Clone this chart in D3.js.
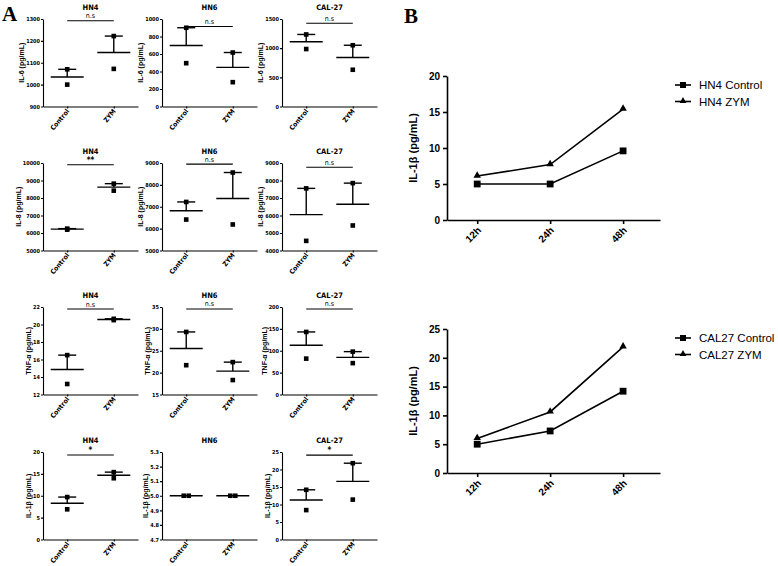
<!DOCTYPE html>
<html><head><meta charset="utf-8">
<script src="https://cdn.jsdelivr.net/npm/d3@7"></script>
<style>
body{margin:0;background:#fff}
svg{display:block}
</style>
</head><body>
<svg id="chart" width="778" height="566"></svg>
<script>
// ---------- Panel A data ----------
const groups = ["Control", "ZYM"];
const cellLines = ["HN4", "HN6", "CAL-27"];
const yLabels = ["IL-6 (pg/mL)", "IL-8 (pg/mL)", "TNF-α (pg/mL)", "IL-1β (pg/mL)"];

const il6Control = [[1000, 1070], [495, 900], [985, 1235]];
const il6ZYM     = [[1072, 1222], [278, 617], [630, 1050]];
const il6Ticks   = [[900, 1000, 1100, 1200, 1300], [0, 200, 400, 600, 800, 1000], [0, 500, 1000, 1500]];
const il6Sig     = ["n.s", "n.s", "n.s"];
const il6SigY    = [1292, 915, 1428];

const il8Control = [[6190, 6250], [6415, 7220], [4550, 7550]];
const il8ZYM     = [[8420, 8820], [6190, 8565], [5430, 7850]];
const il8Ticks   = [[5000, 6000, 7000, 8000, 9000, 10000], [5000, 6000, 7000, 8000, 9000], [4000, 5000, 6000, 7000, 8000, 9000]];
const il8Sig     = ["**", "n.s", "n.s"];
const il8SigY    = [9904, 8950, 8760];

const tnfControl = [[13.2, 16.5], [21.7, 29.3], [82, 143]];
const tnfZYM     = [[20.5, 20.65], [18.3, 22.4], [71.7, 98]];
const tnfTicks   = [[12, 14, 16, 18, 20, 22], [15, 20, 25, 30, 35], [0, 50, 100, 150, 200]];
const tnfSig     = ["n.s", "n.s", "n.s"];
const tnfSigY    = [21.77, 34.55, 195.5];

const il1bControl = [[6.9, 9.7], [5.0, 5.0], [8.4, 14.2]];
const il1bZYM     = [[14.0, 15.4], [5.0, 5.0], [11.4, 21.8]];
const il1bTicks   = [[0, 5, 10, 15, 20], [4.7, 4.8, 4.9, 5.0, 5.1, 5.2, 5.3], [0, 5, 10, 15, 20, 25]];
const il1bSig     = ["*", "", "*"];
const il1bSigY    = [19.3, null, 24.1];

// ---------- Panel B data ----------
const timePoints = ["12h", "24h", "48h"];
const hn4Control = [5.0, 5.0, 9.6];
const hn4ZYM     = [6.1, 7.7, 15.4];
const cal27Control = [5.0, 7.3, 14.2];
const cal27ZYM     = [6.0, 10.6, 21.9];
const bTicksTop    = [0, 5, 10, 15, 20];
const bTicksBottom = [0, 5, 10, 15, 20, 25];
const bLegendTop    = ["HN4 Control", "HN4 ZYM"];
const bLegendBottom = ["CAL27 Control", "CAL27 ZYM"];
const bYLabel = "IL-1β (pg/mL)";

// ---------- Build ----------
const rows = [
  {ctrl: il6Control, zym: il6ZYM, ticks: il6Ticks, sig: il6Sig, sigY: il6SigY, label: yLabels[0]},
  {ctrl: il8Control, zym: il8ZYM, ticks: il8Ticks, sig: il8Sig, sigY: il8SigY, label: yLabels[1]},
  {ctrl: tnfControl, zym: tnfZYM, ticks: tnfTicks, sig: tnfSig, sigY: tnfSigY, label: yLabels[2]},
  {ctrl: il1bControl, zym: il1bZYM, ticks: il1bTicks, sig: il1bSig, sigY: il1bSigY, label: yLabels[3]}
];

const svg = d3.select("#chart");
const narrow = "'Liberation Sans Narrow','Arial Narrow','DejaVu Sans Condensed',sans-serif";
const sans = "'Liberation Sans',Arial,Helvetica,sans-serif";
const serif = "'Liberation Serif','Times New Roman',serif";

svg.append("text").attr("x", 2).attr("y", 21).attr("font-family", serif)
  .attr("font-weight", "bold").attr("font-size", 21).text("A");
svg.append("text").attr("x", 404).attr("y", 23).attr("font-family", serif)
  .attr("font-weight", "bold").attr("font-size", 21).text("B");

const colX = [43, 162, 282];
const rowTop = [19, 163, 307, 452];
const plotW = 95, plotH = 87.5;

rows.forEach((row, r) => {
  cellLines.forEach((cell, c) => {
    const g = svg.append("g").attr("transform", `translate(${colX[c]},${rowTop[r]})`);
    const ticks = row.ticks[c];
    const y = d3.scaleLinear().domain([ticks[0], ticks[ticks.length - 1]]).range([plotH, 0]);
    const x = d3.scalePoint().domain(groups).range([0, plotW]).padding(0.52);
    const fmt = ticks.some(t => !Number.isInteger(t)) ? d3.format(".1f") : d3.format("d");

    const ya = g.append("g").call(d3.axisLeft(y).tickValues(ticks).tickFormat(fmt)
      .tickSize(2).tickSizeOuter(0).tickPadding(1));
    ya.selectAll("text").attr("font-family", narrow).attr("font-weight", "bold")
      .attr("font-size", 5.5).attr("fill", "#000");
    ya.selectAll("path,line").attr("stroke", "#000").attr("stroke-width", 1.1);

    const xa = g.append("g").attr("transform", `translate(0,${plotH})`)
      .call(d3.axisBottom(x).tickSize(2).tickSizeOuter(0));
    xa.selectAll("path,line").attr("stroke", "#000").attr("stroke-width", 1.1);
    xa.selectAll("text").attr("font-family", narrow).attr("font-weight", "bold")
      .attr("font-size", 6.8).attr("fill", "#000")
      .attr("text-anchor", "end").attr("dy", null).attr("y", null)
      .attr("transform", "translate(2,5) rotate(-50)");

    // y label
    let maxW = 0;
    ya.selectAll("text").each(function () { maxW = Math.max(maxW, this.getBBox().width); });
    g.append("text")
      .attr("transform", `translate(${-(2 + 1 + maxW + 1.5)},${plotH / 2}) rotate(-90)`)
      .attr("text-anchor", "middle").attr("font-family", sans).attr("font-weight", "bold")
      .attr("font-size", 7).text(row.label);

    // title
    g.append("text").attr("x", plotW / 2).attr("y", -9.5).attr("text-anchor", "middle")
      .attr("font-family", narrow).attr("font-weight", "bold").attr("font-size", 7.5).text(cell);

    // significance bracket
    if (row.sig[c]) {
      const sy = y(row.sigY[c]);
      g.append("line").attr("x1", x("Control")).attr("x2", x("ZYM"))
        .attr("y1", sy).attr("y2", sy).attr("stroke", "#000").attr("stroke-width", 1.1);
      const star = row.sig[c] !== "n.s";
      g.append("text").attr("x", (x("Control") + x("ZYM")) / 2).attr("y", sy - (star ? 2 : 2.5))
        .attr("text-anchor", "middle").attr("font-family", narrow)
        .attr("font-weight", star ? "bold" : "normal").attr("font-size", star ? 8 : 7).text(row.sig[c]);
    }

    // groups
    [row.ctrl[c], row.zym[c]].forEach((vals, gi) => {
      const cx = x(groups[gi]);
      const n = vals.length;
      const mean = d3.mean(vals);
      const sem = n > 1 ? d3.deviation(vals) / Math.sqrt(n) : 0;
      const allSame = d3.max(vals) === d3.min(vals);
      vals.forEach((v, i) => {
        const off = allSame ? (i - (n - 1) / 2) * 5 : 0;
        g.append("rect").attr("x", cx + off - 2.3).attr("y", y(v) - 2.3)
          .attr("width", 4.6).attr("height", 4.6).attr("fill", "#000");
      });
      g.append("line").attr("x1", cx - 16.5).attr("x2", cx + 16.5)
        .attr("y1", y(mean)).attr("y2", y(mean)).attr("stroke", "#000").attr("stroke-width", 1.4);
      if (sem > 0) {
        g.append("line").attr("x1", cx).attr("x2", cx).attr("y1", y(mean)).attr("y2", y(mean + sem))
          .attr("stroke", "#000").attr("stroke-width", 1.4);
        g.append("line").attr("x1", cx - 9).attr("x2", cx + 9)
          .attr("y1", y(mean + sem)).attr("y2", y(mean + sem)).attr("stroke", "#000").attr("stroke-width", 1.4);
      }
    });
  });
});

// ---------- Panel B ----------
const bX0 = 447, bX1 = 660;
function lineChart(ctrl, zym, ticks, legendNames, yTop, yBot) {
  const g = svg.append("g");
  const x = d3.scalePoint().domain(timePoints).range([bX0, bX1]).padding(0.46).align(0.45);
  const y = d3.scaleLinear().domain([ticks[0], ticks[ticks.length - 1]]).range([yBot, yTop]);

  const ya = g.append("g").attr("transform", `translate(${bX0},0)`)
    .call(d3.axisLeft(y).tickValues(ticks).tickSize(4).tickSizeOuter(0).tickPadding(3));
  ya.selectAll("path,line").attr("stroke", "#000").attr("stroke-width", 1.6);
  ya.selectAll("text").attr("font-family", sans).attr("font-weight", "bold")
    .attr("font-size", 10).attr("fill", "#000");

  const xa = g.append("g").attr("transform", `translate(0,${yBot})`)
    .call(d3.axisBottom(x).tickSize(4).tickSizeOuter(0));
  xa.selectAll("path,line").attr("stroke", "#000").attr("stroke-width", 1.6);
  xa.selectAll("text").attr("font-family", sans).attr("font-weight", "bold")
    .attr("font-size", 10).attr("fill", "#000").attr("text-anchor", "end")
    .attr("dy", null).attr("y", null).attr("transform", "translate(4,11) rotate(-45)");

  g.append("text").attr("transform", `translate(${bX0 - 30},${(yTop + yBot) / 2}) rotate(-90)`)
    .attr("text-anchor", "middle").attr("font-family", sans).attr("font-weight", "bold")
    .attr("font-size", 11).text(bYLabel);

  const line = d3.line().x((d, i) => x(timePoints[i])).y(d => y(d));
  const series = [ctrl, zym];
  series.forEach((vals, si) => {
    g.append("path").attr("d", line(vals)).attr("fill", "none")
      .attr("stroke", "#000").attr("stroke-width", 1.6);
    vals.forEach((v, i) => {
      const px = x(timePoints[i]), py = y(v);
      if (si === 0) {
        g.append("rect").attr("x", px - 3.4).attr("y", py - 3.4).attr("width", 6.8).attr("height", 6.8)
          .attr("fill", "#000");
      } else {
        g.append("path").attr("d", d3.symbol(d3.symbolTriangle, 24)())
          .attr("transform", `translate(${px},${py - 0.5})`).attr("fill", "#000");
      }
    });
  });

  // legend
  legendNames.forEach((name, i) => {
    const ly = yTop + 9 + i * 16.5;
    g.append("line").attr("x1", 675).attr("x2", 691).attr("y1", ly).attr("y2", ly)
      .attr("stroke", "#000").attr("stroke-width", 1.6);
    if (i === 0) {
      g.append("rect").attr("x", 680).attr("y", ly - 3).attr("width", 6).attr("height", 6).attr("fill", "#000");
    } else {
      g.append("path").attr("d", d3.symbol(d3.symbolTriangle, 20)())
        .attr("transform", `translate(683,${ly - 0.5})`).attr("fill", "#000");
    }
    g.append("text").attr("x", 699).attr("y", ly + 4).attr("font-family", sans)
      .attr("font-size", 11.5).attr("fill", "#000").text(name);
  });
}

lineChart(hn4Control, hn4ZYM, bTicksTop, bLegendTop, 76, 220);
lineChart(cal27Control, cal27ZYM, bTicksBottom, bLegendBottom, 329, 473);
</script>
</body></html>
